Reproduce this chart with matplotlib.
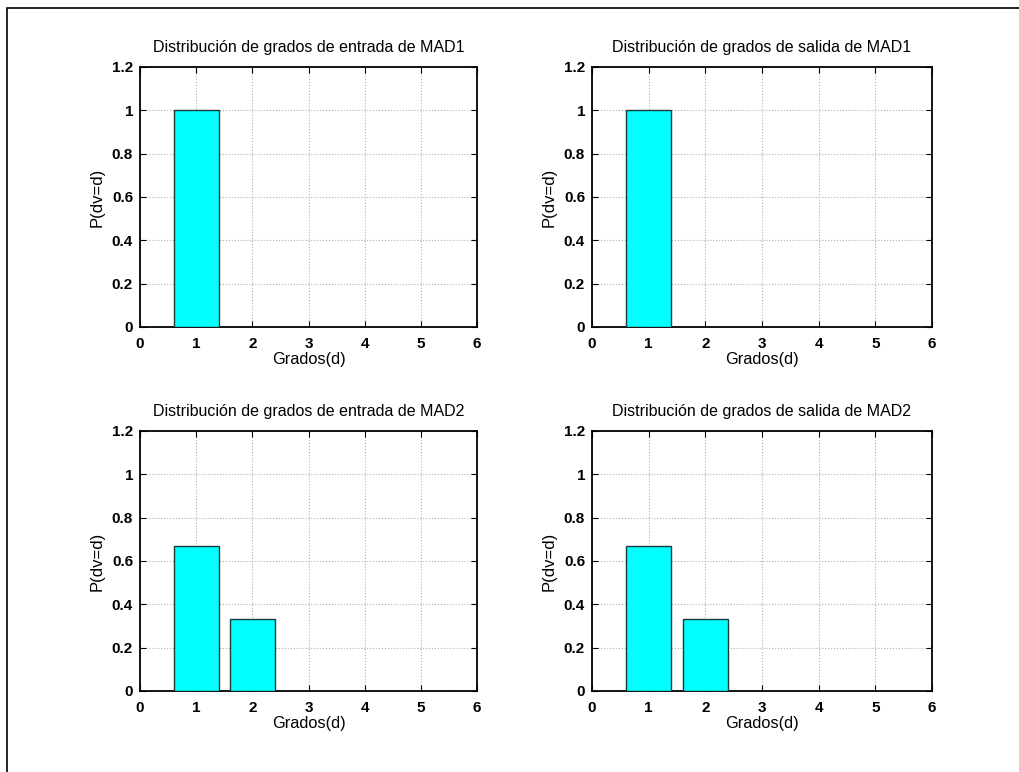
import matplotlib
matplotlib.use("Agg")
import matplotlib.pyplot as plt
from matplotlib.patches import Rectangle

plt.rcParams['font.family'] = ['Liberation Sans', 'DejaVu Sans']

degrees = [0, 1, 2, 3, 4, 5, 6]
mad1_in = [0, 1.0, 0, 0, 0, 0, 0]
mad1_out = [0, 1.0, 0, 0, 0, 0, 0]
mad2_in = [0, 0.667, 0.333, 0, 0, 0, 0]
mad2_out = [0, 0.667, 0.333, 0, 0, 0, 0]

titles = [
    "Distribución de grados de entrada de MAD1",
    "Distribución de grados de salida de MAD1",
    "Distribución de grados de entrada de MAD2",
    "Distribución de grados de salida de MAD2",
]
series = [mad1_in, mad1_out, mad2_in, mad2_out]
xticks = [0, 1, 2, 3, 4, 5, 6]
yticks = [0, 0.2, 0.4, 0.6, 0.8, 1.0, 1.2]
ytick_labels = ["0", "0.2", "0.4", "0.6", "0.8", "1", "1.2"]

W, H = 1019, 772
fig = plt.figure(figsize=(W / 100, H / 100), dpi=100)

# outer frame
fig.patches.append(Rectangle((7 / W, -0.1), 1.2, 1 - 8 / H + 0.1,
                             transform=fig.transFigure, fill=False,
                             edgecolor='black', linewidth=1.2))

positions = [
    (140, 67, 477, 327),
    (592, 67, 932, 327),
    (140, 431, 477, 691),
    (592, 431, 932, 691),
]

for (x0, y0, x1, y1), title, vals in zip(positions, titles, series):
    ax = fig.add_axes([x0 / W, 1 - y1 / H, (x1 - x0) / W, (y1 - y0) / H])
    ax.bar(degrees, vals, width=0.8, color='#00FFFF', edgecolor='#1a3a3a',
           linewidth=1.0, zorder=3)
    ax.set_xlim(0, 6)
    ax.set_ylim(0, 1.2)
    ax.set_xticks(xticks)
    ax.set_yticks(yticks)
    ax.set_yticklabels(ytick_labels)
    ax.grid(True, linestyle=':', color='#b0b0b0', linewidth=0.8, zorder=0)
    ax.tick_params(direction='in', top=True, right=True, length=4,
                   labelsize=11, width=0.8)
    ax.tick_params(axis='x', pad=7)
    ax.tick_params(axis='y', pad=5)
    for lbl in ax.get_xticklabels() + ax.get_yticklabels():
        lbl.set_fontweight('bold')
    for s in ax.spines.values():
        s.set_linewidth(1.3)
    ax.set_title(title, fontsize=11.5, pad=11)
    ax.set_xlabel("Grados(d)", fontsize=11.8, labelpad=1)
    ax.set_ylabel("P(dv=d)", fontsize=12, labelpad=5)

fig.savefig("out.png", dpi=100)
